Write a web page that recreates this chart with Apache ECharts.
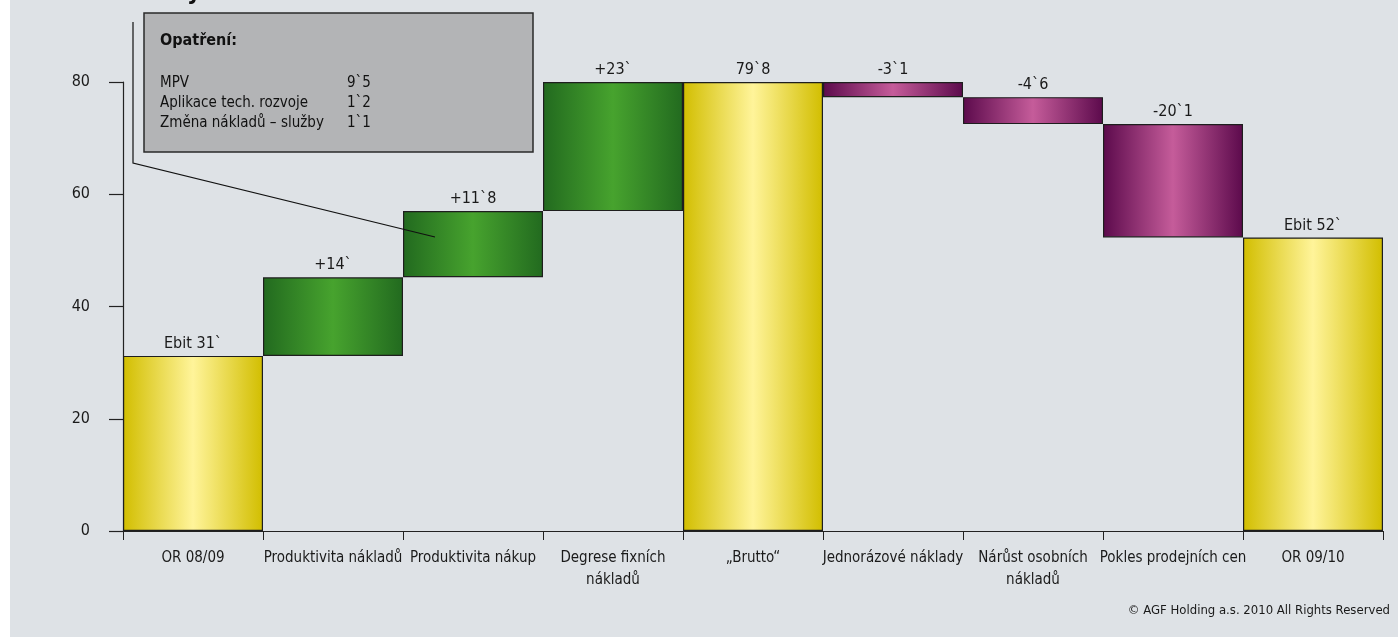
<!DOCTYPE html>
<html>
<head>
<meta charset="utf-8">
<script src="https://cdn.jsdelivr.net/npm/echarts@6/dist/echarts.min.js"></script>
<style>
html,body{margin:0;padding:0;background:#ffffff;}
#c{position:absolute;left:10px;top:0;width:1388px;height:637px;background:#dee2e6;}
</style>
</head>
<body>
<div id="c"></div>
<script>
var categories = ['OR 08/09','Produktivita nákladů','Produktivita nákup','Degrese fixních\nnákladů','„Brutto“','Jednorázové náklady','Nárůst osobních\nnákladů','Pokles prodejních cen','OR 09/10'];
var baseValues = [0, 31.2, 45.2, 57.0, 0, 77.3, 72.5, 52.3, 0];
var topValues  = [31.2, 45.2, 57.0, 80.0, 80.0, 80.0, 77.3, 72.5, 52.3];
var barKinds   = ['total','up','up','up','total','down','down','down','total'];
var barLabels  = ['Ebit 31`','+14`','+11`8','+23`','79`8','-3`1','-4`6','-20`1','Ebit 52`'];
var yTicks     = [0, 20, 40, 60, 80];
var boxTitle   = 'Opatření:';
var boxNames   = ['MPV','Aplikace tech. rozvoje','Změna nákladů – služby'];
var boxValues  = ['9`5','1`2','1`1'];
var copyright  = '© AGF Holding a.s. 2010 All Rights Reserved';

var FONT = '"Liberation Sans Narrow","DejaVu Sans Condensed",sans-serif';
function grad(edge, mid){
  return {type:'linear',x:0,y:0,x2:1,y2:0,colorStops:[{offset:0,color:edge},{offset:0.5,color:mid},{offset:1,color:edge}]};
}
var fills = {
  total: grad('#d2be00','#fff49a'),
  up: grad('#226a1f','#47a32e'),
  down: grad('#5c0a4c','#c55c9a')
};
var deltas = topValues.map(function(t,i){ return +(t - baseValues[i]).toFixed(2); });

var chart = echarts.init(document.getElementById('c'));
var option = {
  backgroundColor:'#dee2e6',
  animation:false,
  grid:{left:113,right:15,top:82,bottom:106,containLabel:false},
  xAxis:{
    type:'category',
    data:categories,
    boundaryGap:true,
    axisLine:{lineStyle:{color:'#222',width:1.2}},
    axisTick:{show:true,length:9,lineStyle:{color:'#222'}},
    axisLabel:{color:'#1a1a1a',fontFamily:FONT,fontSize:15,margin:16,lineHeight:22,interval:0}
  },
  yAxis:{
    type:'value',min:yTicks[0],max:yTicks[yTicks.length-1],interval:20,
    axisLine:{show:true,lineStyle:{color:'#222',width:1.2}},
    axisTick:{show:true,length:14,lineStyle:{color:'#222',width:1.2}},
    axisLabel:{color:'#1a1a1a',fontFamily:FONT,fontSize:16,margin:33},
    splitLine:{show:false}
  },
  series:[
    {
      type:'bar',stack:'w',data:baseValues,barCategoryGap:0,
      itemStyle:{color:'rgba(0,0,0,0)',borderWidth:0},
      emphasis:{disabled:true},silent:true
    },
    {
      type:'bar',stack:'w',barCategoryGap:0,
      data:deltas.map(function(v,i){
        return {value:v,itemStyle:{color:fills[barKinds[i]],borderColor:'#1e1e1e',borderWidth:1.2}};
      }),
      label:{
        show:true,position:'top',distance:4,color:'#1a1a1a',fontFamily:FONT,fontSize:16,
        formatter:function(p){return barLabels[p.dataIndex];}
      },
      emphasis:{disabled:true},silent:true
    }
  ],
  graphic:[
    {type:'text',z:100,x:177,y:5,style:{text:'y',font:'bold 24px '+FONT,fill:'#111',textVerticalAlign:'bottom'}},
    {type:'polyline',z:100,shape:{points:[[123,22],[123,163],[425,237]]},style:{stroke:'#111',lineWidth:1.2,fill:null}},
    {type:'rect',z:101,shape:{x:134,y:13,width:389,height:139},style:{fill:'#b3b4b6',stroke:'#2a2a2a',lineWidth:1.5}},
    {type:'text',z:102,x:150,y:41,style:{text:boxTitle,font:'bold 16px '+FONT,fill:'#111',textVerticalAlign:'middle'}},
    {type:'text',z:102,x:150,y:83,style:{text:boxNames[0],font:'15px '+FONT,fill:'#111',textVerticalAlign:'middle'}},
    {type:'text',z:102,x:150,y:103,style:{text:boxNames[1],font:'15px '+FONT,fill:'#111',textVerticalAlign:'middle'}},
    {type:'text',z:102,x:150,y:123,style:{text:boxNames[2],font:'15px '+FONT,fill:'#111',textVerticalAlign:'middle'}},
    {type:'text',z:102,x:337,y:83,style:{text:boxValues[0],font:'15px '+FONT,fill:'#111',textVerticalAlign:'middle'}},
    {type:'text',z:102,x:337,y:103,style:{text:boxValues[1],font:'15px '+FONT,fill:'#111',textVerticalAlign:'middle'}},
    {type:'text',z:102,x:337,y:123,style:{text:boxValues[2],font:'15px '+FONT,fill:'#111',textVerticalAlign:'middle'}},
    {type:'text',z:102,x:1380,y:611,style:{text:copyright,font:'13px '+FONT,fill:'#1a1a1a',textAlign:'right',textVerticalAlign:'middle'}}
  ]
};
chart.setOption(option);
</script>
</body>
</html>
